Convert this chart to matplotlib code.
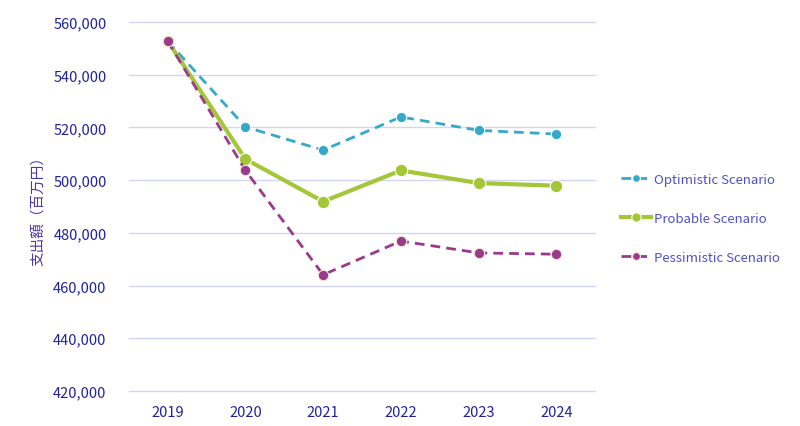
import matplotlib
matplotlib.use("Agg")
import matplotlib.pyplot as plt
from matplotlib.ticker import FuncFormatter

years = ["2019", "2020", "2021", "2022", "2023", "2024"]
optimistic = [552800, 520200, 511400, 524000, 518900, 517500]
probable = [552800, 508000, 491900, 503700, 498900, 497900]
pessimistic = [552800, 503700, 464100, 476900, 472400, 471900]
series_names = ["Optimistic Scenario", "Probable Scenario", "Pessimistic Scenario"]

plt.rcParams['font.family'] = ['Noto Sans CJK JP', 'DejaVu Sans']

fig = plt.figure(figsize=(8, 4.27), dpi=100)
ax = fig.add_axes([0.161, 0.082, 0.583, 0.864])

x = list(range(len(years)))
tc = '#22229a'
ax.plot(x, optimistic, color='#34a9c9', lw=2, ls=(0, (3.5, 2.2)), marker='o', ms=7.5,
        mec='white', mew=0.8, label=series_names[0], zorder=3)
ax.plot(x, probable, color='#a4c73a', lw=3, ls='-', marker='o', ms=9,
        mec='white', mew=0.8, label=series_names[1], zorder=4)
ax.plot(x, pessimistic, color='#9a3a8c', lw=2, ls=(0, (3.5, 2.2)), marker='o', ms=7.5,
        mec='#f5e8d0', mew=0.8, label=series_names[2], zorder=5)

ax.set_ylim(420000, 560000)
ax.set_xlim(-0.5, len(years) - 0.5)
ax.set_yticks(range(420000, 560001, 20000))
ax.yaxis.set_major_formatter(FuncFormatter(lambda v, p: f"{int(v):,}"))
ax.set_xticks(x)
ax.set_xticklabels(years)
ax.tick_params(length=0, colors=tc, labelsize=10.5, pad=10)
ax.tick_params(axis='y', pad=16)
for s in ax.spines.values():
    s.set_visible(False)
ax.grid(axis='y', color='#d4d4f4', lw=1)
for gl in ax.get_ygridlines():
    gl.set_clip_on(False)
ax.set_axisbelow(True)
ax.set_ylabel("支出額（百万円）", color='#4a3aa8', fontsize=10.5, labelpad=6)

leg = ax.legend(loc='center left', bbox_to_anchor=(1.03, 0.468), frameon=False,
                labelspacing=1.95, handlelength=2.3, handletextpad=0.2, fontsize=9.5,
                markerscale=0.75)
for t in leg.get_texts():
    t.set_color('#5050c8')

fig.savefig("out.png", dpi=100)
